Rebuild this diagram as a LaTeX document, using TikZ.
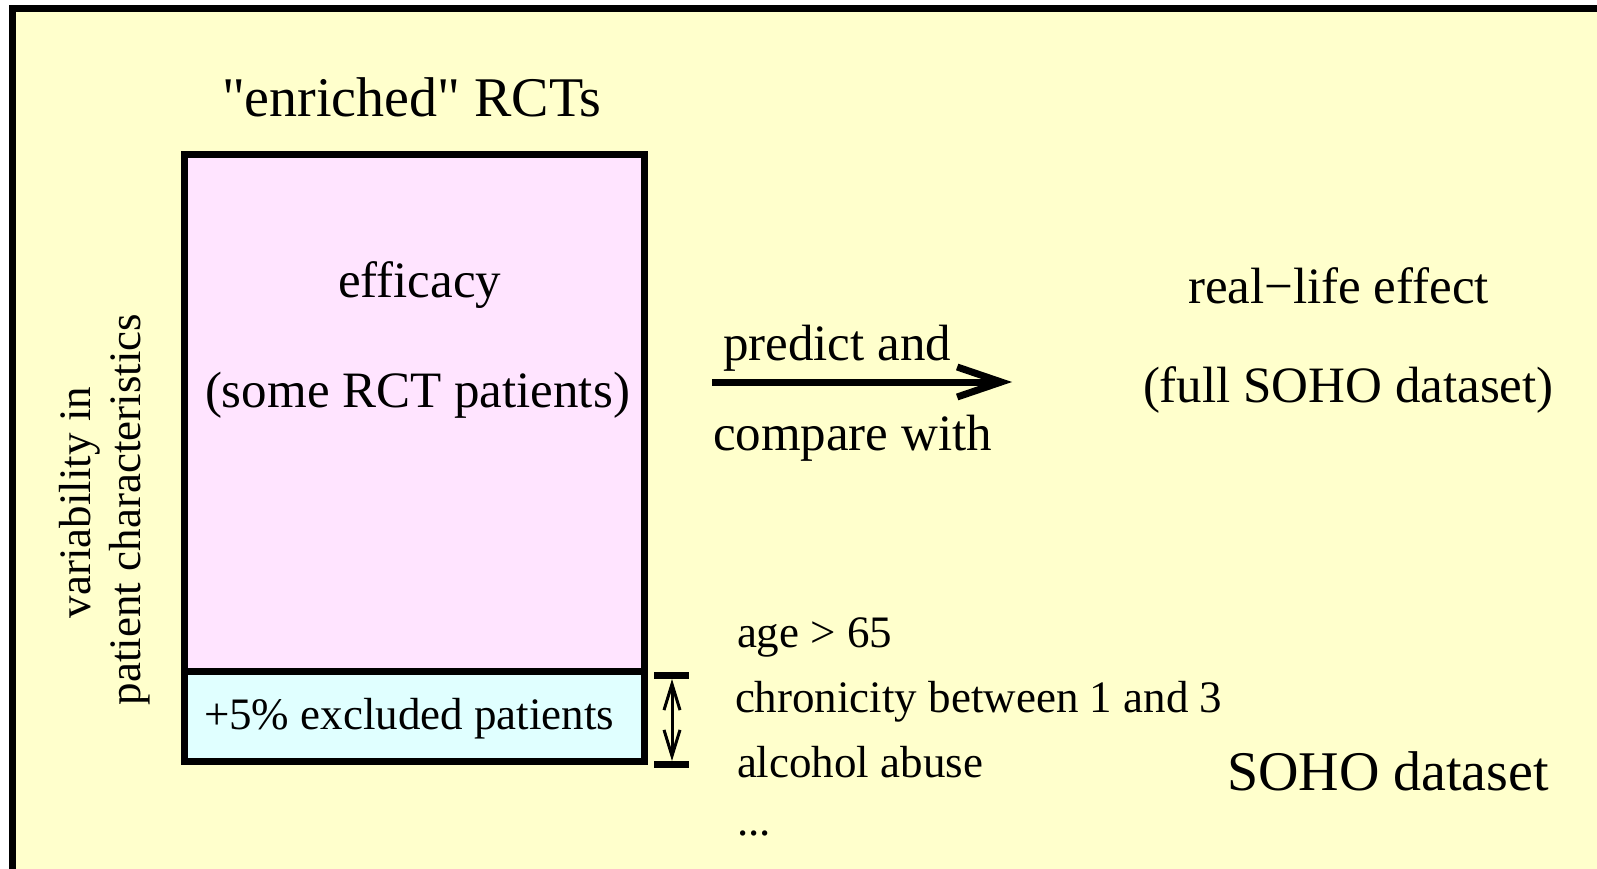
\documentclass[tikz,border=0pt]{standalone}
\usepackage{fontspec}
\setmainfont{Liberation Serif}[Ligatures=TeXOff]
\usetikzlibrary{arrows.meta}
\definecolor{bgyellow}{HTML}{FFFFCC}
\definecolor{effpink}{HTML}{FFE4FF}
\definecolor{exccyan}{HTML}{E0FFFF}
\begin{document}
\begin{tikzpicture}[x=1pt,y=-1pt,
  txt/.style={inner sep=0pt, outer sep=0pt, anchor=base west},
  big/.style={font=\fontsize{51}{60}\selectfont},
  mid/.style={font=\fontsize{45}{54}\selectfont},
  large/.style={font=\fontsize{56}{66}\selectfont},
  panel/.style={draw=black, line width=7pt, outer sep=0pt, inner sep=0pt, anchor=north west}]
\useasboundingbox (0,0) rectangle (1597,869);
% sheet with its frame (runs past the right and bottom edges)
\begin{scope}
  \clip (0,0) rectangle (1597,869);
  \fill[white] (0,0) rectangle (1597,869);
  \draw[line width=7pt, fill=bgyellow] (12,8.5) rectangle (1650,930);
\end{scope}

% RCT population box
\node[panel, fill=effpink, minimum width=460pt, minimum height=516.5pt] (eff) at (184.5,155) {};
\node[panel, fill=exccyan, minimum width=460pt, minimum height=90pt] (exc) at (184.5,671.5) {};

\node[txt, large] (title) at (222,117) {"enriched" RCTs};
\node[txt, big] (efficacy) at (338,297) {efficacy};
\node[txt, big] (some) at (205,407) {(some RCT patients)};
\node[txt, mid] (excl) at (204,729) {+5\% excluded patients};

% side label
\node[txt, mid, rotate=90] (var1) at (90,618) {variability in};
\node[txt, mid, rotate=90] (var2) at (140,705) {patient characteristics};

% prediction arrow
\coordinate (arrS) at (712,382);
\coordinate (arrE) at (1012,382);
\draw[line width=7pt, -{Straight Barb[length=44pt,width=30pt]}] (arrS) -- (arrE);
\node[txt, big] (predict) at (723,360) {predict and};
\node[txt, big] (compare) at (713,450) {compare with};

\node[txt, big] (real) at (1188,303) {real−life effect};
\node[txt, big] (full) at (1143,402) {(full SOHO dataset)};

% range bracket beside the excluded strip
\coordinate (tl) at (654,675.5);
\coordinate (tr) at (689,675.5);
\coordinate (bl) at (654,764.5);
\coordinate (br) at (689,764.5);
\coordinate (rt) at (672,679);
\coordinate (rb) at (672,761);
\draw[line width=7pt] (tl) -- (tr);
\draw[line width=7pt] (bl) -- (br);
\draw[line width=3pt, {Straight Barb[length=26pt,width=16pt]}-{Straight Barb[length=26pt,width=16pt]}] (rt) -- (rb);

% exclusion criteria
\node[txt, mid] (age) at (737,647) {age > 65};
\node[txt, mid] (chron) at (735,712) {chronicity between 1 and 3};
\node[txt, mid] (alc) at (737,777) {alcohol abuse};
\node[txt, mid] (dots) at (737,835) {...};

\node[txt, large] (soho) at (1227,790) {SOHO dataset};
\end{tikzpicture}
\end{document}
